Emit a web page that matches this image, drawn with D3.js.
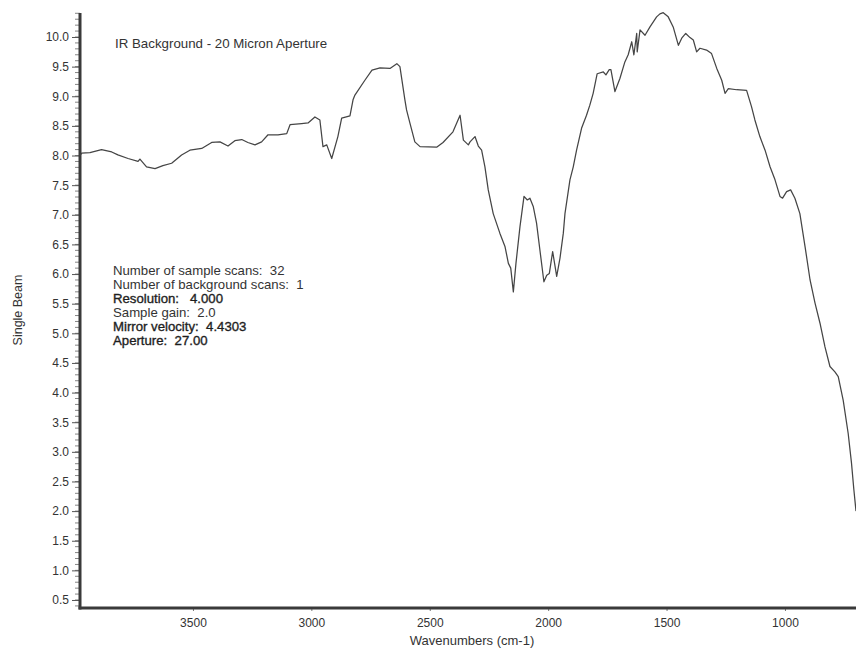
<!DOCTYPE html>
<html>
<head>
<meta charset="utf-8">
<script src="https://cdn.jsdelivr.net/npm/d3@7"></script>
<style>
  html, body { margin: 0; padding: 0; background: #fff; }
  svg { display: block; font-family: "Liberation Sans", Arial, Helvetica, sans-serif; }
</style>
</head>
<body>
<svg id="chart" width="856" height="649"></svg>
<script>
// ---- Data ----
const wavenumbers = [3977,3970,3935,3886,3843,3817,3774,3732,3724,3696,3660,3627,3590,3548,3513,3463,3421,3386,3352,3323,3294,3268,3238,3210,3183,3141,3104,3090,3041,3014,2985,2964,2951,2935,2914,2888,2872,2837,2824,2816,2774,2744,2710,2668,2639,2626,2605,2598,2584,2563,2541,2471,2444,2402,2372,2358,2337,2330,2309,2295,2281,2267,2253,2232,2204,2182,2168,2158,2147,2136,2119,2102,2088,2077,2063,2049,2035,2018,2006,1995,1981,1964,1950,1936,1929,1908,1894,1880,1859,1838,1824,1810,1793,1767,1756,1742,1735,1718,1697,1676,1662,1647,1638,1626,1624,1612,1591,1570,1542,1528,1514,1493,1472,1450,1436,1419,1401,1387,1373,1359,1331,1310,1288,1267,1253,1239,1204,1162,1141,1127,1106,1084,1063,1042,1021,1010,993,976,958,937,915,894,873,852,831,810,789,775,754,733,719,709,700];
const singleBeam = [8.00,8.04,8.05,8.10,8.06,8.01,7.95,7.90,7.94,7.81,7.78,7.83,7.87,8.01,8.09,8.12,8.22,8.23,8.16,8.25,8.27,8.22,8.18,8.23,8.35,8.35,8.37,8.52,8.54,8.55,8.65,8.60,8.15,8.18,7.95,8.32,8.63,8.67,8.94,9.02,9.27,9.44,9.48,9.47,9.55,9.50,8.94,8.77,8.55,8.23,8.15,8.14,8.22,8.40,8.68,8.26,8.18,8.23,8.32,8.16,8.09,7.81,7.42,7.02,6.69,6.46,6.18,6.10,5.70,6.18,6.80,7.31,7.25,7.28,7.14,6.86,6.41,5.87,5.98,6.01,6.38,5.96,6.27,6.69,7.02,7.59,7.81,8.09,8.46,8.68,8.85,9.05,9.38,9.41,9.36,9.45,9.45,9.08,9.30,9.58,9.70,9.92,9.70,10.06,9.75,10.12,10.03,10.17,10.34,10.39,10.41,10.34,10.17,9.86,9.98,10.06,9.99,9.95,9.75,9.81,9.78,9.72,9.47,9.27,9.05,9.13,9.11,9.10,8.82,8.60,8.32,8.09,7.81,7.59,7.31,7.28,7.39,7.42,7.28,7.02,6.46,5.90,5.51,5.17,4.77,4.44,4.35,4.27,3.87,3.31,2.81,2.36,2.00];
const xTickValues = [3500, 3000, 2500, 2000, 1500, 1000];
const yTickValues = [0.5,1.0,1.5,2.0,2.5,3.0,3.5,4.0,4.5,5.0,5.5,6.0,6.5,7.0,7.5,8.0,8.5,9.0,9.5,10.0];
const titleText = "IR Background - 20 Micron Aperture";
const infoLines = ["Number of sample scans:  32","Number of background scans:  1","Resolution:   4.000","Sample gain:  2.0","Mirror velocity:  4.4303","Aperture:  27.00"];
const infoBold = [false,false,true,false,true,true];
const xLabel = "Wavenumbers (cm-1)";
const yLabel = "Single Beam";

// ---- Layout ----
const svg = d3.select("#chart");
const mLeft = 80, mRight = 856, mTop = 13, mBottom = 608;
const x = d3.scaleLinear().domain([3977, 700]).range([mLeft, mRight]);
const y = d3.scaleLinear().domain([0.365, 10.405]).range([mBottom, mTop]);
const ink = "#3a3a3a";

// Minor y ticks every 0.1
const minor = d3.range(4, 105).map(d => d / 10).filter(v => v >= 0.37 && v <= 10.4);
svg.append("g").selectAll("line").data(minor).join("line")
  .attr("x1", mLeft - 5).attr("x2", mLeft)
  .attr("y1", d => y(d)).attr("y2", d => y(d))
  .attr("stroke", "#666").attr("stroke-width", 0.8);

// Y axis
const yAxis = d3.axisLeft(y).tickValues(yTickValues).tickFormat(d3.format(".1f")).tickSize(8).tickPadding(3);
const gy = svg.append("g").attr("transform", `translate(${mLeft},0)`).call(yAxis);
gy.select(".domain").remove();
gy.selectAll(".tick line").attr("stroke", "#555").attr("stroke-width", 1);
gy.selectAll(".tick text").attr("fill", "#333").style("font-size", "12px")
  .style("font-family", "'Liberation Sans', Arial, sans-serif");

// X axis
const xAxis = d3.axisBottom(x).tickValues(xTickValues).tickFormat(d3.format("d")).tickSize(3).tickPadding(7);
const gx = svg.append("g").attr("transform", `translate(0,${mBottom})`).call(xAxis);
gx.select(".domain").remove();
gx.selectAll(".tick line").attr("stroke", "#777");
gx.selectAll(".tick text").attr("fill", "#333").style("font-size", "12px")
  .style("font-family", "'Liberation Sans', Arial, sans-serif");

// Axis frame lines (thick)
svg.append("line").attr("x1", mLeft).attr("x2", mLeft).attr("y1", mTop).attr("y2", mBottom + 1.5)
  .attr("stroke", ink).attr("stroke-width", 3);
svg.append("line").attr("x1", mLeft - 1.5).attr("x2", mRight).attr("y1", mBottom).attr("y2", mBottom)
  .attr("stroke", ink).attr("stroke-width", 3);

// Spectrum
const pts = wavenumbers.map((w, i) => [w, singleBeam[i]]);
svg.append("path").datum(pts)
  .attr("fill", "none").attr("stroke", "#454545").attr("stroke-width", 1.25)
  .attr("stroke-linejoin", "round")
  .attr("d", d3.line().x(d => x(d[0])).y(d => y(d[1])));

// Title
svg.append("text").attr("x", 115).attr("y", 48).attr("fill", "#333")
  .style("font-size", "13.3px").text(titleText);

// Info block
svg.append("g").selectAll("text").data(infoLines).join("text")
  .attr("x", 113).attr("y", (d, i) => 274.5 + i * 14)
  .attr("fill", (d, i) => infoBold[i] ? "#1e1e1e" : "#333")
  .attr("stroke", (d, i) => infoBold[i] ? "#1e1e1e" : "none")
  .attr("stroke-width", 0.35)
  .style("font-size", "13.2px")
  .style("white-space", "pre")
  .text(d => d);

// Axis labels
svg.append("text").attr("x", 472).attr("y", 645).attr("text-anchor", "middle")
  .attr("fill", "#333").style("font-size", "13px").text(xLabel);
svg.append("text").attr("transform", "translate(22,310) rotate(-90)").attr("text-anchor", "middle")
  .attr("fill", "#333").style("font-size", "12.5px").text(yLabel);
</script>
</body>
</html>
